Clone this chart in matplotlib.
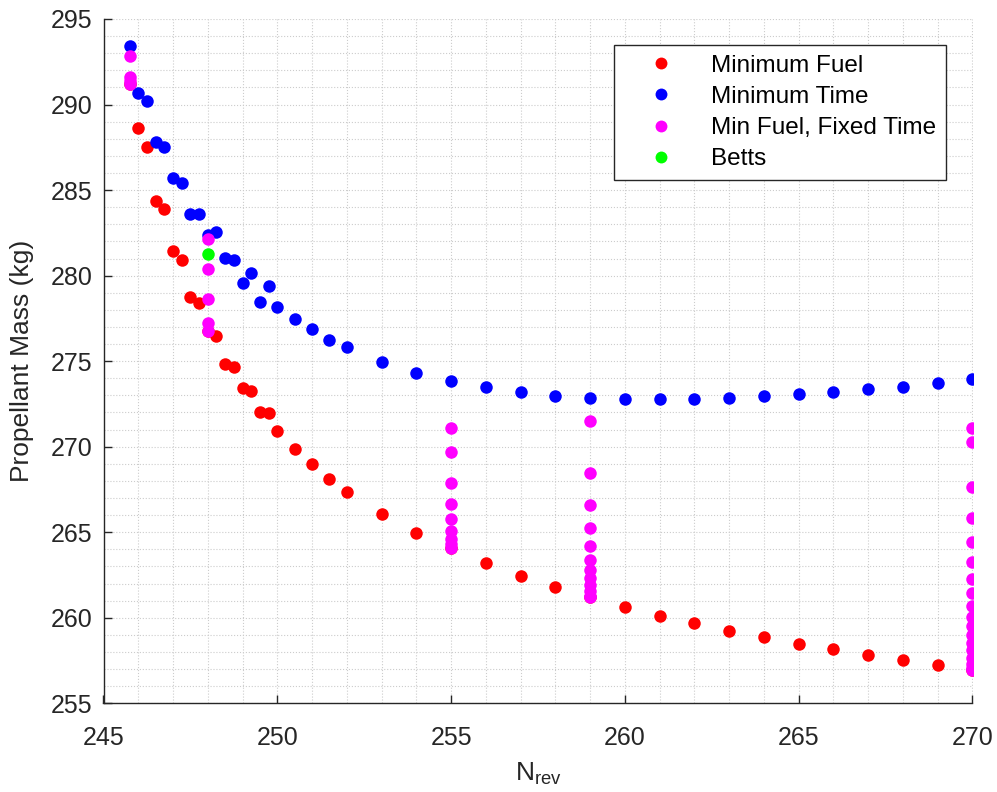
import matplotlib
matplotlib.use("Agg")
import matplotlib.pyplot as plt
from matplotlib.ticker import MultipleLocator

plt.rcParams["font.family"] = ["Liberation Sans", "DejaVu Sans"]
plt.rcParams["mathtext.default"] = "regular"

# Minimum fuel solutions
fuel_n = [245.75, 246, 246.25, 246.5, 246.75, 247, 247.25, 247.5, 247.75, 248,
          248.25, 248.5, 248.75, 249, 249.25, 249.5, 249.75, 250, 250.5, 251,
          251.5, 252, 253, 254, 255, 256, 257, 258, 259, 260,
          261, 262, 263, 264, 265, 266, 267, 268, 269, 270]
fuel_mass = [291.2, 288.65, 287.52, 284.36, 283.91, 281.46, 280.91, 278.73, 278.38, 276.76,
             276.47, 274.85, 274.68, 273.41, 273.26, 272.05, 271.95, 270.92, 269.87, 268.97,
             268.13, 267.37, 266.07, 264.98, 264.05, 263.19, 262.45, 261.78, 261.2, 260.65,
             260.13, 259.68, 259.25, 258.88, 258.49, 258.16, 257.83, 257.52, 257.24, 256.95]

# Minimum time solutions
time_n = fuel_n
time_mass = [293.4, 290.66, 290.2, 287.81, 287.54, 285.72, 285.43, 283.58, 283.58, 282.38,
             282.55, 281.01, 280.91, 279.55, 280.14, 278.48, 279.40, 278.19, 277.47, 276.86,
             276.24, 275.81, 274.97, 274.29, 273.86, 273.47, 273.2, 272.99, 272.87, 272.81,
             272.79, 272.79, 272.87, 272.95, 273.07, 273.22, 273.36, 273.51, 273.74, 273.94]

# Min fuel with fixed time, grouped by N_rev
fixed_245 = [292.86, 291.6, 291.4, 291.2]
fixed_248 = [282.12, 280.37, 278.63, 277.21, 276.76]
fixed_255 = [271.1, 269.7, 267.85, 266.65, 265.75, 265.05, 264.6, 264.3, 264.05]
fixed_259 = [271.5, 268.45, 266.6, 265.25, 264.2, 263.4, 262.8, 262.3, 261.9,
             261.55, 261.3, 261.2]
fixed_270 = [271.1, 270.25, 267.65, 265.85, 264.4, 263.25, 262.25, 261.42, 260.7,
             260.05, 259.5, 259.0, 258.55, 258.1, 257.65, 257.3, 257.05, 256.95]
fixed_groups = [(245.75, fixed_245), (248, fixed_248), (255, fixed_255),
                (259, fixed_259), (270, fixed_270)]

betts_n = [248]
betts_mass = [281.25]

fixed_n = []
fixed_mass = []
for n, vals in fixed_groups:
    fixed_n += [n] * len(vals)
    fixed_mass += vals

fig = plt.figure(figsize=(9.97, 7.92), dpi=100)
ax = fig.add_axes([103.5 / 997, 1 - 703.3 / 792, (972.5 - 103.5) / 997, (703.3 - 19) / 792])

ms = 9
ax.plot(fuel_n, fuel_mass, "o", color="#ff0000", ms=ms, mew=0, label="Minimum Fuel")
ax.plot(time_n, time_mass, "o", color="#0000ff", ms=ms, mew=0, label="Minimum Time")
ax.plot(fixed_n, fixed_mass, "o", color="#ff00ff", ms=ms, mew=0, label="Min Fuel, Fixed Time")
ax.plot(betts_n, betts_mass, "o", color="#00ff00", ms=ms, mew=0, label="Betts")

ax.set_xlim(245, 270)
ax.set_ylim(255, 295)
ax.xaxis.set_major_locator(MultipleLocator(5))
ax.xaxis.set_minor_locator(MultipleLocator(1))
ax.yaxis.set_major_locator(MultipleLocator(5))
ax.yaxis.set_minor_locator(MultipleLocator(1))

ax.set_axisbelow(True)
ax.grid(which="both", linestyle=":", color="#cccccc", linewidth=0.8)

for side in ["top", "right"]:
    ax.spines[side].set_visible(False)
for side in ["left", "bottom"]:
    ax.spines[side].set_color("#262626")
    ax.spines[side].set_linewidth(1.0)

ax.tick_params(which="major", direction="in", length=6, width=1.0,
               colors="#262626", labelsize=18, pad=8)
ax.tick_params(axis="x", which="major", pad=16)
ax.tick_params(which="minor", length=0)

ax.set_xlabel("N$_{rev}$", fontsize=19, color="#262626", labelpad=8)
ax.set_ylabel("Propellant Mass (kg)", fontsize=19, color="#262626", labelpad=12)

leg = ax.legend(loc="upper right", bbox_to_anchor=(946 / 997, 1 - 45 / 792),
                bbox_transform=fig.transFigure, borderaxespad=0,
                fontsize=17.5, fancybox=False, framealpha=1,
                handlelength=3.1, handletextpad=0.5, labelspacing=0.38,
                borderpad=0.4, markerscale=0.95)
leg.get_frame().set_edgecolor("#262626")
leg.get_frame().set_linewidth(1.0)

fig.savefig("out.png", dpi=100, facecolor="white")
